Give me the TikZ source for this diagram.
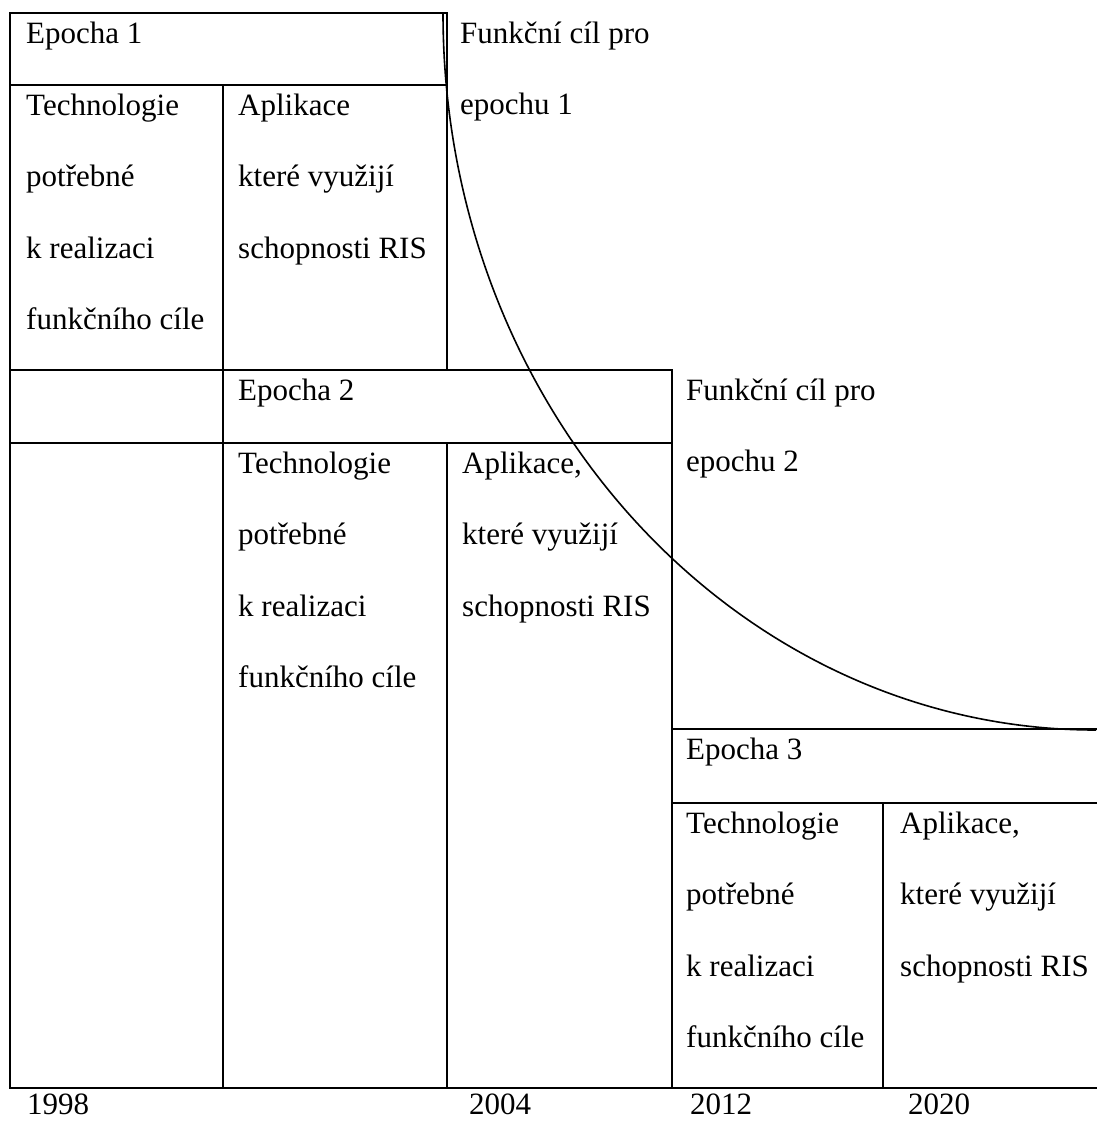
\documentclass[tikz,border=0pt]{standalone}
\usepackage{fontspec}
\setmainfont{Liberation Serif}
% one node per text line, lines 71.5 units apart: name, x, first baseline, lines
\newcommand\linestack[4]{%
  \foreach \txt [count=\i] in {#4}
    \node[lbl] (#1-\i) at (#2,{#3+(\i-1)*71.5}) {\txt};%
}
\begin{document}
\begin{tikzpicture}[x=1pt,y=-1pt,
  frame/.style={line width=2.4pt, line cap=rect},
  goalcurve/.style={line width=1.6pt},
  lbl/.style={anchor=base west, inner sep=0pt,
              font=\fontsize{31}{36}\selectfont},
]
\useasboundingbox (0,0) rectangle (1096,1122);

% epoch 1 block
\draw[frame] (10,13) rectangle (447,370);
\draw[frame] (10,85) -- (447,85);
\draw[frame] (223,85) -- (223,1088);

% epoch 2 block
\draw[frame] (10,370) -- (10,1088) -- (1096,1088);
\draw[frame] (223,370) -- (672,370) -- (672,1088);
\draw[frame] (10,443) -- (672,443);
\draw[frame] (447,443) -- (447,1088);

% epoch 3 block
\draw[frame] (672,729) -- (1096,729);
\draw[frame] (672,803) -- (1096,803);
\draw[frame] (883,803) -- (883,1088);

% functional goal curve
\coordinate (gtop) at (443,13);
\draw[goalcurve] (gtop) arc[start angle=180, end angle=90, x radius=653, y radius=717] coordinate (gend);

% epoch 1 texts
\node[lbl] (e1) at (26,43) {Epocha 1};
\linestack{g1}{460}{43}{Funkční cíl pro, epochu 1}
\linestack{t1}{26}{115}{Technologie, potřebné, k realizaci, funkčního cíle}
\linestack{a1}{238}{115}{Aplikace, které využijí, schopnosti RIS}

% epoch 2 texts
\node[lbl] (e2) at (238,400) {Epocha 2};
\linestack{g2}{686}{400}{Funkční cíl pro, epochu 2}
\linestack{t2}{238}{473}{Technologie, potřebné, k realizaci, funkčního cíle}
\linestack{a2}{462}{473}{{Aplikace,}, které využijí, schopnosti RIS}

% epoch 3 texts
\node[lbl] (e3) at (686,759) {Epocha 3};
\linestack{t3}{686}{833}{Technologie, potřebné, k realizaci, funkčního cíle}
\linestack{a3}{900}{833}{{Aplikace,}, které využijí, schopnosti RIS}

% time axis labels
\node[lbl] (y1) at (27,1114) {1998};
\node[lbl] (y2) at (469,1114) {2004};
\node[lbl] (y3) at (690,1114) {2012};
\node[lbl] (y4) at (908,1114) {2020};
\end{tikzpicture}
\end{document}
